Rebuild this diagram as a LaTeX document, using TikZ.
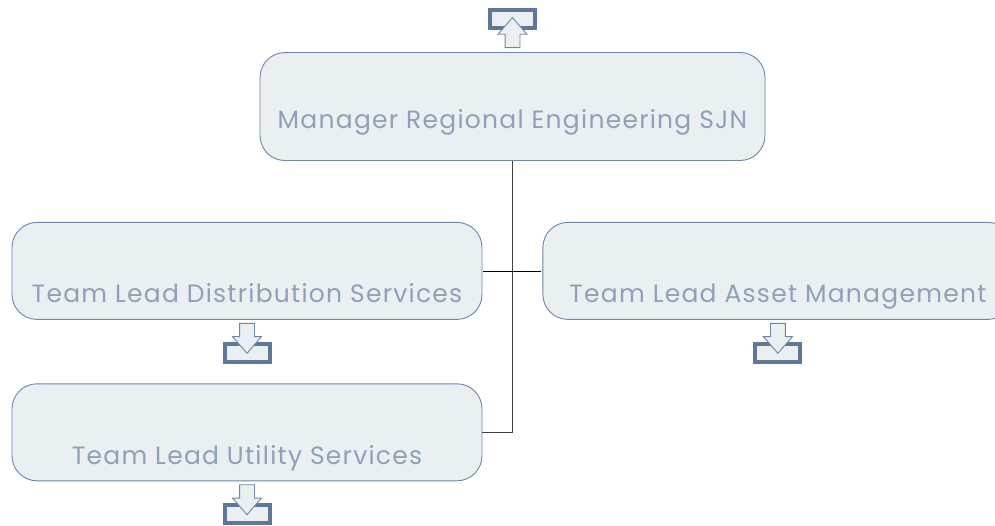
\documentclass[tikz,border=0pt]{standalone}
\usepackage{fontspec}
\setmainfont{Poppins}[LetterSpace=5]
\usetikzlibrary{positioning}
\usetikzlibrary{shapes.arrows}
\definecolor{boxfill}{HTML}{EAEFF2}
\definecolor{boxline}{HTML}{6F86A8}
\definecolor{foldline}{HTML}{5F7899}
\definecolor{labeltext}{HTML}{8FA0B8}
\tikzstyle{orgbox} = [rectangle,rounded corners=25pt,fill=boxfill,draw=boxline,line width=0.9pt,
minimum width=470pt, minimum height=97pt, inner sep=0pt]
\tikzstyle{orgtext} = [inner sep=0pt, text=labeltext, text depth=0pt, font=\fontsize{25}{25}\selectfont]
\tikzstyle{folded} = [rectangle,fill=boxfill,draw=foldline,line width=4pt,
minimum width=45pt, minimum height=18pt, inner sep=0pt]
\tikzstyle{foldarrow} = [single arrow,fill=boxfill,draw=boxline,line width=0.9pt,inner sep=7pt,
minimum width=28pt, minimum height=30pt, single arrow head extend=7pt, single arrow tip angle=82]
\tikzstyle{link} = [line width=0.8pt,black!75]

\begin{document}
\begin{tikzpicture}[x=1pt,y=1pt]
  \useasboundingbox (0,0) rectangle (995,-525);
  \node[orgbox, minimum width=505pt, minimum height=108pt] (mgr) at (512.5,-106.5) {};
  \node[orgbox, below=61pt of mgr, xshift=-265.5pt] (dist) {};
  \node[orgbox, right=60pt of dist] (asset) {};
  \node[orgbox, below=63.5pt of dist] (util) {};

  \node[orgtext, above=32.5pt of mgr.south] (mgrtext) {Manager Regional Engineering SJN};
  \node[orgtext, above=17.5pt of dist.south] (disttext) {Team Lead Distribution Services};
  \node[orgtext, above=17.5pt of asset.south] (assettext) {Team Lead Asset Management};
  \node[orgtext, above=17pt of util.south] (utiltext) {Team Lead Utility Services};

  \coordinate (drop) at (mgr.south |- util.east);
  \draw[link] (mgr) -- (drop) -- (util.east);
  \draw[link, black, shorten <=1pt, shorten >=1pt] (dist.east) -- (asset.west);

  \node[folded, above=22pt of mgr] (mgrfold) {};
  \node[folded, below=22pt of dist] (distfold) {};
  \node[folded, below=22pt of asset] (assetfold) {};
  \node[folded, below=22pt of util] (utilfold) {};

  \node[foldarrow, shape border rotate=90, above=4pt of mgr] (mgrarrow) {};
  \node[foldarrow, shape border rotate=270, below=3pt of dist] (distarrow) {};
  \node[foldarrow, shape border rotate=270, below=3pt of asset] (assetarrow) {};
  \node[foldarrow, shape border rotate=270, below=3pt of util] (utilarrow) {};
\end{tikzpicture}
\end{document}
